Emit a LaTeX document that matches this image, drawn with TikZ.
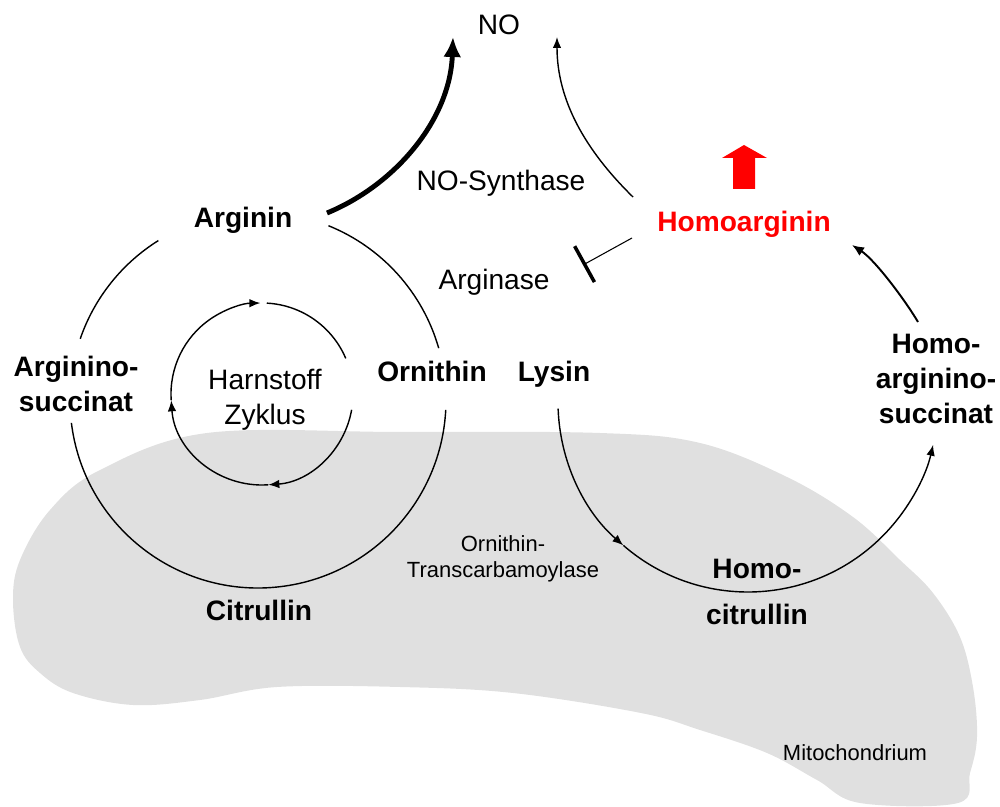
\documentclass[tikz,border=0pt]{standalone}
\usepackage{fontspec}
\setmainfont{Liberation Sans}
\usetikzlibrary{arrows.meta}
\definecolor{mitogray}{RGB}{224,224,224}

\begin{document}
\begin{tikzpicture}[x=.2mm,y=-.2mm,
  lbl/.style={font=\bfseries\fontsize{16}{20}\selectfont,align=center,inner sep=0pt},
  txt/.style={font=\fontsize{16}{20}\selectfont,align=center,inner sep=0pt},
  small/.style={font=\fontsize{12.5}{14.5}\selectfont,align=center,inner sep=0pt},
  cyc/.style={line width=.8pt},
  flow/.style={line width=.8pt,-{Latex[length=2.2mm,width=1.7mm]}}]
\path[use as bounding box] (0,0) rectangle (1000,807);
\fill[mitogray] plot[smooth cycle,tension=.6] coordinates {(207,433) (400,432) (600,433) (700,443) (787,477) (853,517) (900,560) (933,593) (960,637) (973,687) (977,737) (970,773) (958,803) (860,803) (817,780) (767,753) (700,730) (641,713) (513,693) (400,687) (277,687) (200,700) (133,705) (73,693) (40,673) (20,647) (13,600) (20,560) (50,510) (100,470)};

\node[txt,anchor=base] (no) at (499,35) {NO};
\node[txt,anchor=base] (nos) at (501,191) {NO-Synthase};
\node[txt,anchor=base] (arginase) at (494,290) {Arginase};
\node[lbl,anchor=base] (arg) at (243,228) {Arginin};
\node[lbl] (argsuc) at (76,384) {Arginino-\\succinat};
\node[lbl,anchor=base] (orn) at (432,382) {Ornithin};
\node[txt] (urea) at (265,400) {Harnstoff\\Zyklus};
\node[lbl,anchor=base] (cit) at (259,620) {Citrullin};
\node[lbl,anchor=base] (lys) at (554,382) {Lysin};
\node[lbl,anchor=base,text=red] (harg) at (744,232) {Homoarginin};
\node[lbl] (hargsuc) at (936,379) {Homo-\\arginino-\\succinat};
\node[lbl] (hcit) at (757,592) {Homo-\\[6pt]citrullin};
\node[small] (otc) at (503,559) {Ornithin-\\Transcarbamoylase};
\node[small,anchor=base] (mito) at (855,760) {Mitochondrium};

\coordinate (uc) at (258,400);
\coordinate (hc) at (262,394);
\coordinate (lc) at (748,402);
\coordinate (argout) at (327,213);
\coordinate (noleft) at (453,37);
\coordinate (noright) at (557,37);
\coordinate (hargout) at (633,197);
\coordinate (hargbar) at (632,238);
\coordinate (arginhib) at (583,265);
\coordinate (hargin) at (852,245);
\coordinate (hsucout) at (918,322);

\draw[cyc] (uc) ++(238:188) arc[start angle=238,end angle=199,radius=188];
\draw[cyc] (uc) ++(173:188) arc[start angle=173,end angle=3,radius=188];
\draw[cyc] (uc) ++(-16:188) arc[start angle=-16,end angle=-68,radius=188];

\draw[cyc] (hc) ++(-87:91) arc[start angle=-87,end angle=-23,radius=91];
\foreach \a/\b in {10/86,86/176,176/269}
  \draw[flow] (hc) ++(\a:91) arc[start angle=\a,end angle=\b,radius=91];

\draw[flow] (lc) ++(178:190) arc[start angle=178,end angle=131,radius=190];
\draw[flow] (lc) ++(131:190) arc[start angle=131,end angle=13,radius=190];

\draw[line width=2.8pt,-{Latex[length=4mm,width=3.6mm]}] (argout) .. controls (395,185) and (450,120) .. (noleft);
\draw[flow] (hargout) .. controls (585,150) and (557,100) .. (noright);
\draw[line width=.6pt,-{Bar[width=8.2mm,line width=2pt]}] (hargbar) -- (arginhib);
\draw[line width=1.1pt,-{Latex[length=2.4mm,width=2mm]}] (hsucout) .. controls (905,300) and (875,260) .. (hargin);

\fill[red] (733,189) -- (733,158) -- (722,158) -- (744,145) -- (767,158) -- (755,158) -- (755,189) -- cycle;
\end{tikzpicture}
\end{document}
